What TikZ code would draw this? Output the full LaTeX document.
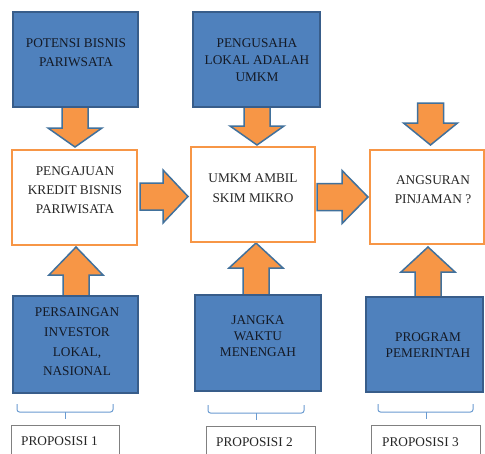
\documentclass[tikz,border=0pt]{standalone}
\usepackage{fontspec}
\setmainfont{Liberation Serif}
\definecolor{bfill}{HTML}{4F81BD}
\definecolor{bdraw}{HTML}{385D8A}
\definecolor{ofill}{HTML}{F79646}
\definecolor{adraw}{HTML}{41719C}
\definecolor{brc}{HTML}{6A9BD1}
\definecolor{gbox}{HTML}{808080}
\definecolor{txt}{HTML}{262626}
\definecolor{btxt}{HTML}{141A26}
\tikzset{
  bluebox/.style={draw=bdraw,fill=bfill,line width=1.5pt,inner sep=0pt,outer sep=0pt,anchor=north west},
  orbox/.style={draw=ofill,fill=white,line width=2pt,inner sep=0pt,outer sep=0pt,anchor=north west},
  propbox/.style={draw=gbox,fill=white,line width=0.8pt,inner sep=0pt,outer sep=0pt,anchor=north west},
  arrowshape/.style={draw=adraw,fill=ofill,line width=1.5pt,line join=miter},
  bracestyle/.style={draw=brc,line width=1pt,rounded corners=2.5pt},
  lbl/.style={inner sep=0pt,outer sep=0pt,align=center,anchor=north,text=btxt},
  wlbl/.style={inner sep=0pt,outer sep=0pt,align=center,anchor=north,text=txt},
}
\newcommand\dnarrow[4]{% cx, ytop, yheadbase, ytip
  \draw[arrowshape] (#1-13,#2) -- (#1-13,#3) -- (#1-27,#3) -- (#1,#4) -- (#1+27,#3) -- (#1+13,#3) -- (#1+13,#2) -- cycle;}
\newcommand\rtarrow[4]{% cy, xstart, xheadbase, xtip
  \draw[arrowshape] (#2,#1-13.5) -- (#3,#1-13.5) -- (#3,#1-26.5) -- (#4,#1) -- (#3,#1+26.5) -- (#3,#1+13.5) -- (#2,#1+13.5) -- cycle;}
\newcommand\bracket[4]{% xl, xr, xc, ytop
  \draw[bracestyle] (#1,#4) -- (#1,#4+8) -- (#2,#4+8) -- (#2,#4);
  \draw[draw=brc,line width=1pt] (#3,#4+8) -- (#3,#4+15);}
\begin{document}
\begin{tikzpicture}[x=1pt,y=-1pt,font=\fontsize{13.3}{19}\selectfont]
\clip (0,0) rectangle (485,453);
\fill[white] (0,0) rectangle (485,453);
% block arrows (drawn first, boxes cover their ends)
\dnarrow{75}{105}{128}{147}
\dnarrow{257}{105}{126}{145}
\dnarrow{430.5}{103}{123}{145}
\dnarrow{76}{299}{275}{247}
\dnarrow{256}{299}{268}{243}
\dnarrow{428}{299}{272}{247}
\rtarrow{196.5}{140}{163}{188}
\rtarrow{197}{317}{342}{368}
% top row
\node[bluebox,minimum width=125pt,minimum height=95pt] (pot) at (13,12) {};
\node[bluebox,minimum width=127pt,minimum height=95pt] (pengusaha) at (193,12) {};
% middle row
\node[orbox,minimum width=125pt,minimum height=95pt] (kredit) at (12,150) {};
\node[orbox,minimum width=124pt,minimum height=95pt] (umkm) at (191,147) {};
\node[orbox,minimum width=114pt,minimum height=94pt] (angsuran) at (370,150) {};
% bottom row
\node[bluebox,minimum width=125pt,minimum height=97pt] (persaingan) at (13,296) {};
\node[bluebox,minimum width=126pt,minimum height=96pt] (jangka) at (195,295) {};
\node[bluebox,minimum width=117pt,minimum height=95pt] (program) at (366,297) {};
% texts
\node[lbl] (tpot) at (76,39) {POTENSI BISNIS\\PARIWSATA};
\node[lbl,font=\fontsize{13.3}{17}\selectfont] (tpeng) at (257,39) {PENGUSAHA\\LOKAL ADALAH\\UMKM};
\node[wlbl] (tkredit) at (75,167) {PENGAJUAN\\KREDIT BISNIS\\PARIWISATA};
\node[wlbl,font=\fontsize{13.3}{20}\selectfont] (tumkm) at (253,174) {UMKM AMBIL\\SKIM MIKRO};
\node[wlbl] (tangs) at (433,176) {ANGSURAN\\PINJAMAN ?};
\node[lbl,font=\fontsize{13.3}{19.7}\selectfont] (tpers) at (77,308) {PERSAINGAN\\INVESTOR\\LOKAL,\\NASIONAL};
\node[lbl,font=\fontsize{13.3}{16}\selectfont] (tjangka) at (258,316) {JANGKA\\WAKTU\\MENENGAH};
\node[lbl,font=\fontsize{13.3}{16}\selectfont] (tprog) at (428,333) {PROGRAM\\PEMERINTAH};
% brackets
\bracket{17}{113}{65}{404}
\bracket{208}{304}{256}{405}
\bracket{378}{473}{426}{404}
% proposisi boxes
\node[propbox,minimum width=108pt,minimum height=40pt] (p1) at (11,425) {};
\node[propbox,minimum width=109pt,minimum height=40pt] (p2) at (206,426) {};
\node[propbox,minimum width=109pt,minimum height=40pt] (p3) at (371,425) {};
\node[inner sep=0pt,anchor=base west,text=txt] (tp1) at (21,445) {PROPOSISI 1};
\node[inner sep=0pt,anchor=base west,text=txt] (tp2) at (216,446) {PROPOSISI 2};
\node[inner sep=0pt,anchor=base west,text=txt] (tp3) at (382,446) {PROPOSISI 3};
\end{tikzpicture}
\end{document}
